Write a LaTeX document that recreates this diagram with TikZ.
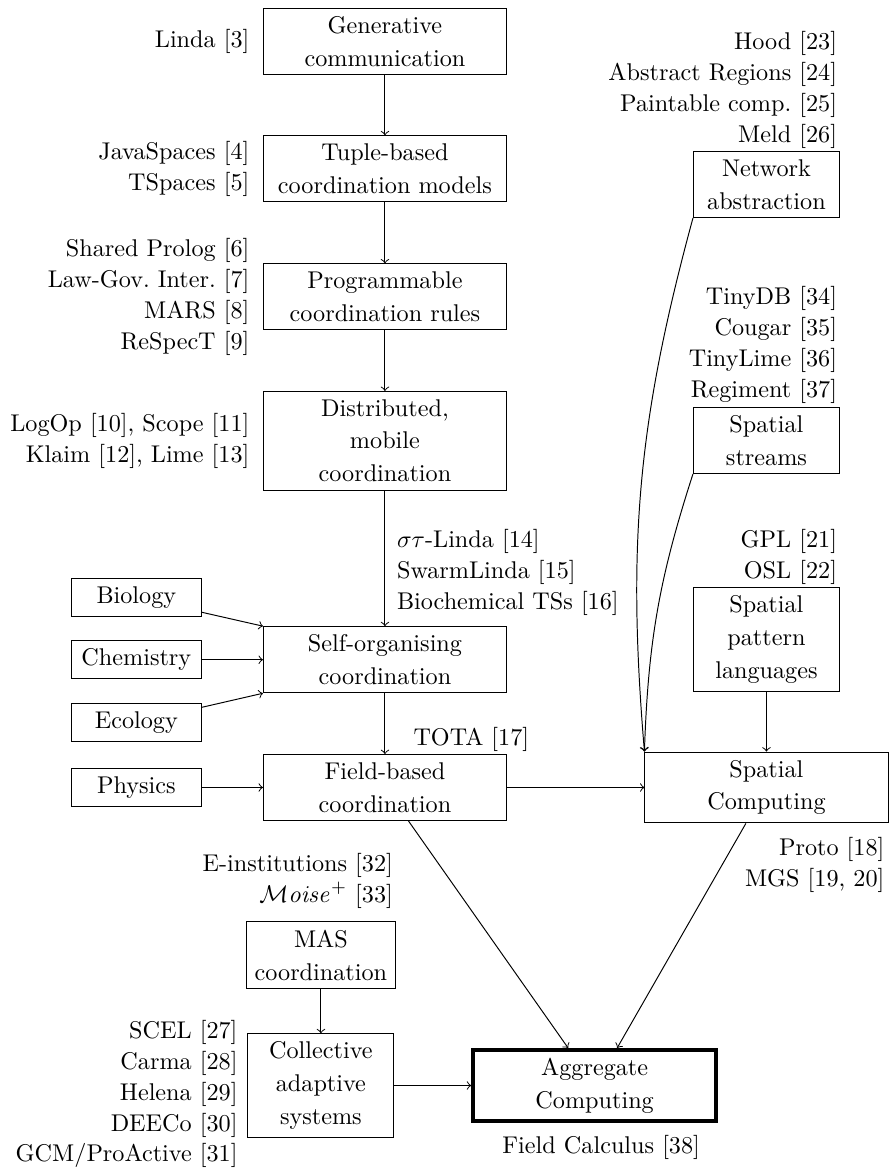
\documentclass[tikz,border=0pt]{standalone}
\usetikzlibrary{positioning}
\begin{document}
\begin{tikzpicture}[box/.style={draw, align=center, minimum width=3.53cm, font=\fontsize{10}{13.5}\selectfont},
  sbox/.style={draw, align=center, minimum width=2.12cm, font=\fontsize{10}{13.5}\selectfont},
  tbox/.style={draw, minimum width=1.89cm},
  lbl/.style={align=right, inner sep=1pt, font=\fontsize{10}{12.8}\selectfont}]
\useasboundingbox (0,0) rectangle (12.94,16.99);
% main column
\node[box] (gen) at (5.59,16.39) {Generative\\communication};
\node[box] (tuple) at (5.59,14.54) {Tuple-based\\coordination models};
\node[box] (prog) at (5.59,12.68) {Programmable\\coordination rules};
\node[box] (distr) at (5.59,10.59) {Distributed,\\mobile\\coordination};
\node[box] (selforg) at (5.59,7.41) {Self-organising\\coordination};
\node[box] (field) at (5.59,5.555) {Field-based\\coordination};
\foreach \n/\t/\y in {bio/Biology/8.315, chem/Chemistry/7.41, eco/Ecology/6.5, phys/Physics/5.555}
{
    \node[tbox] (\n) at (1.98,\y) {\t};
}
% right column
\node[sbox] (net) at (11.13,14.31) {Network\\abstraction};
\node[sbox] (streams) at (11.13,10.595) {Spatial\\streams};
\node[sbox] (pattern) at (11.13,7.705) {Spatial\\pattern\\languages};
\node[box] (spatial) at (11.13,5.555) {Spatial\\Computing};
% bottom
\node[sbox] (mas) at (4.66,3.12) {MAS\\coordination};
\node[sbox] (cas) at (4.66,1.227) {Collective\\adaptive\\systems};
\node[box, ultra thick] (agg) at (8.635,1.227) {Aggregate\\Computing};

% labels
\node[lbl, left=4.4pt of gen] (linda) {Linda [3]};
\node[lbl, left=4.4pt of tuple] (tspaces) {JavaSpaces [4]\\TSpaces [5]};
\node[lbl, left=4.4pt of prog] (prolog) {Shared Prolog [6]\\Law-Gov.\ Inter.\ [7]\\MARS [8]\\ReSpecT [9]};
\node[lbl, left=4.4pt of distr] (klaim) {LogOp [10], Scope [11]\\Klaim [12], Lime [13]};
\node[lbl, align=left, above right=3.1pt and 3.8pt of selforg.north] (swarm) {$\sigma\tau$-Linda [14]\\SwarmLinda [15]\\Biochemical TSs [16]};
\node[lbl, above right=0pt and 10.6pt of field.north] (tota) {TOTA [17]};
\node[lbl, below left=4.7pt and 0.5pt of spatial.south east] (proto) {Proto [18]\\MGS [19, 20]};
\node[lbl, anchor=south east] (gpl) at (pattern.north east) {GPL [21]\\OSL [22]};
\node[lbl, anchor=south east] (hood) at (net.north east) {Hood [23]\\Abstract Regions [24]\\Paintable comp.\ [25]\\Meld [26]};
\node[lbl, anchor=south east] (tinydb) at (streams.north east) {TinyDB [34]\\Cougar [35]\\TinyLime [36]\\Regiment [37]};
\node[lbl, above left=4.3pt and 0pt of mas.north east] (moise) {E-institutions [32]\\$\mathcal{M}\mathit{oise}^{+}$ [33]};
\node[lbl, left=2.9pt of cas, yshift=-3.5pt] (scel) {SCEL [27]\\Carma [28]\\Helena [29]\\DEECo [30]\\GCM/ProActive [31]};
\node[lbl, below=3.7pt of agg, xshift=2.7pt] (fcalc) {Field Calculus [38]};

% arrows
\foreach \a/\b in {gen/tuple, tuple/prog, prog/distr, distr/selforg, selforg/field, chem/selforg, phys/field, field/spatial, pattern/spatial, mas/cas, cas/agg}
{
    \draw[->] (\a) -- (\b);
}
\draw[->] (bio) -- (selforg.north west);
\draw[->] (eco) -- (selforg.south west);
\draw[->] (net.south west) to[bend right=10] (spatial.north west);
\draw[->] (streams.south west) to[bend right=8] (spatial.north west);
\draw[->] (field) -- ([xshift=-0.385cm]agg.north);
\draw[->] (spatial) -- ([xshift=0.327cm]agg.north);
\end{tikzpicture}
\end{document}
